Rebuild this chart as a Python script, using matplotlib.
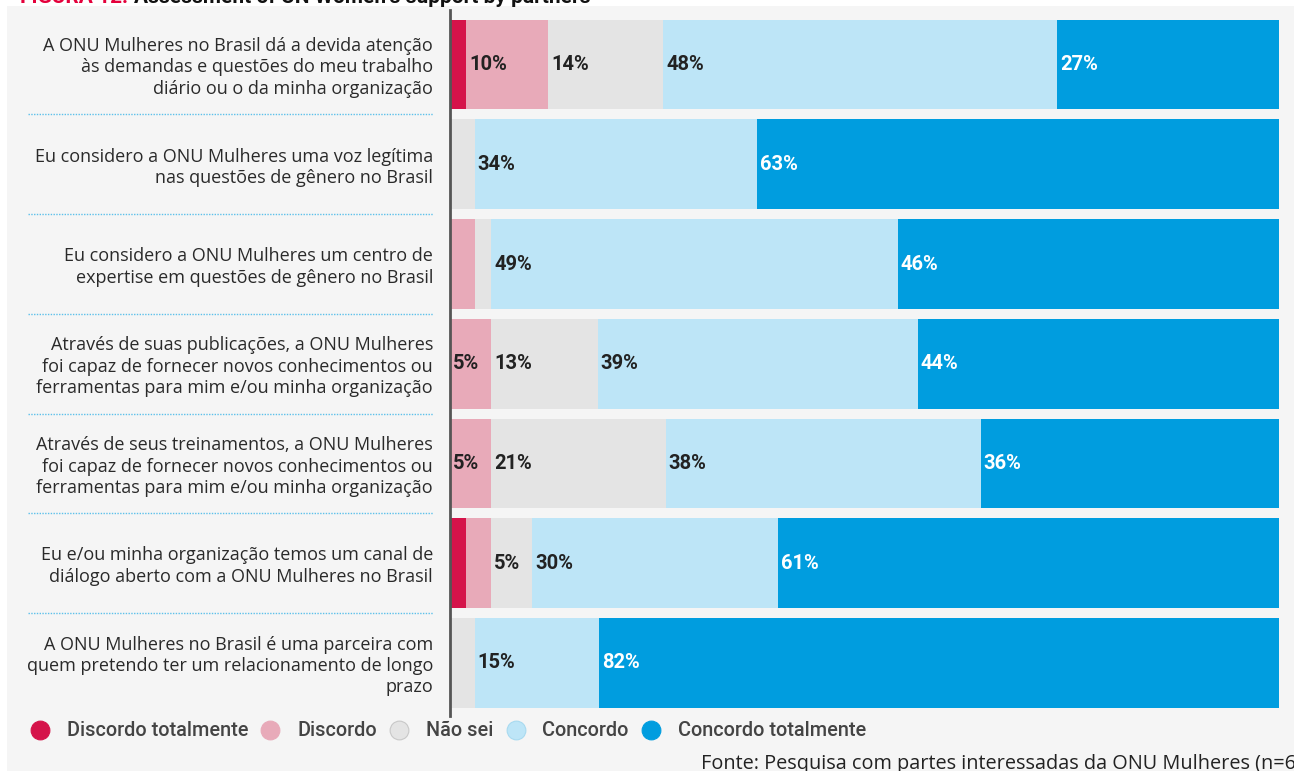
import matplotlib
matplotlib.use("Agg")
import matplotlib.pyplot as plt
import matplotlib.transforms as mtransforms
from matplotlib.patches import Rectangle
from matplotlib.lines import Line2D
import numpy as np

# ---------------- data ----------------
categories = [
    "A ONU Mulheres no Brasil dá a devida atenção\nàs demandas e questões do meu trabalho\ndiário ou o da minha organização",
    "Eu considero a ONU Mulheres uma voz legítima\nnas questões de gênero no Brasil",
    "Eu considero a ONU Mulheres um centro de\nexpertise em questões de gênero no Brasil",
    "Através de suas publicações, a ONU Mulheres\nfoi capaz de fornecer novos conhecimentos ou\nferramentas para mim e/ou minha organização",
    "Através de seus treinamentos, a ONU Mulheres\nfoi capaz de fornecer novos conhecimentos ou\nferramentas para mim e/ou minha organização",
    "Eu e/ou minha organização temos um canal de\ndiálogo aberto com a ONU Mulheres no Brasil",
    "A ONU Mulheres no Brasil é uma parceira com\nquem pretendo ter um relacionamento de longo\nprazo",
]
series_names = ["Discordo totalmente", "Discordo", "Não sei", "Concordo", "Concordo totalmente"]
discordo_totalmente = [2, 0, 0, 0, 0, 2, 0]
discordo = [10, 0, 3, 5, 5, 3, 0]
nao_sei = [14, 3, 2, 13, 21, 5, 3]
concordo = [48, 34, 49, 39, 38, 30, 15]
concordo_totalmente = [27, 63, 46, 44, 36, 61, 82]

colors = ["#d5134a", "#e8aab9", "#e4e4e4", "#bde5f7", "#009ddf"]
label_colors = ["white", "#222222", "#222222", "#222222", "white"]

W, H = 1294, 771
fig = plt.figure(figsize=(W / 100, H / 100), dpi=100, facecolor="white")

# background panel
fig.patches.append(Rectangle((7 / W, 0), 1 - 7 / W, 1 - 6 / H, transform=fig.transFigure,
                             facecolor="#f5f5f5", edgecolor="none", zorder=-10))

# title (cut off at top, as in reference)
fig.text(128 / W, 1 - 3 / H, "FIGURA 12:", color="#e4003b", fontsize=15, fontweight="bold",
         ha="right", va="baseline", family="Roboto")
fig.text(134 / W, 1 - 3 / H, "Assessment of UN Women's support by partners", color="#111111",
         fontsize=15, fontweight="bold", ha="left", va="baseline", family="Roboto")

row_pitch = 99.75
top_px = 64.5 - row_pitch / 2
bot_px = 663.0 + row_pitch / 2
ax = fig.add_axes([450 / W, 1 - bot_px / H, (1279 - 450) / W, (bot_px - top_px) / H])
ax.set_facecolor("none")

series = [discordo_totalmente, discordo, nao_sei, concordo, concordo_totalmente]
data = np.array(series, dtype=float)  # shape (5, n)
totals = data.sum(axis=0)
scaled = data / totals * 100.0
n = len(categories)
y = np.arange(n)
left = np.zeros(n)
for k in range(len(series)):
    ax.barh(y, scaled[k], left=left, height=0.9, color=colors[k], edgecolor="none", zorder=2)
    for i in range(n):
        if data[k, i] >= 5:
            ax.annotate(f"{int(data[k, i])}%", (left[i], y[i]), xytext=(3, 0),
                        textcoords="offset pixels", ha="left", va="center",
                        fontsize=14.5, fontweight="bold", color=label_colors[k],
                        family="Roboto", zorder=3)
    left = left + scaled[k]

ax.set_xlim(0, 100)
ax.set_ylim(n - 0.5, -0.5)
ax.set_xticks([])
ax.set_yticks([])
for s in ["top", "right", "bottom"]:
    ax.spines[s].set_visible(False)
ax.spines["left"].set_color("#555555")
ax.spines["left"].set_linewidth(2.0)
ax.spines["left"].set_bounds(n - 0.5 + 0.03, -0.5 - 0.05)

# category labels and dotted separators
blend = mtransforms.blended_transform_factory(fig.transFigure, ax.transData)
for i, cat in enumerate(categories):
    ax.annotate(cat, (433 / W, i), xycoords=blend, xytext=(0, -3), textcoords="offset pixels",
                ha="right", va="center", multialignment="right", fontsize=13,
                color="#2a2a2a", family="Open Sans", linespacing=1.25, annotation_clip=False)
for i in range(n - 1):
    ax.plot([28 / W, 433 / W], [i + 0.5, i + 0.5], transform=blend, color="#5cc0ea",
            linewidth=1.0, linestyle=(0, (1, 1)), clip_on=False)

# legend
handles = []
for k, name in enumerate(series_names):
    ec = "#c8c8c8" if k == 2 else ("#a8daf0" if k == 3 else colors[k])
    handles.append(Line2D([], [], marker="o", linestyle="none", markersize=13.5,
                          markerfacecolor=colors[k], markeredgecolor=ec, markeredgewidth=0.8,
                          label=name))
leg = fig.legend(handles=handles, loc="center left", bbox_to_anchor=(30 / W, 1 - 731 / H),
                 ncol=5, frameon=False, borderaxespad=0, borderpad=0, handlelength=1.0,
                 handletextpad=0.85, columnspacing=0.62,
                 prop={"family": "Roboto", "size": 14.3, "weight": "medium"})
for t in leg.get_texts():
    t.set_color("#444444")

# footer (cut off at right / bottom, as in reference)
fig.text(701 / W, 1 - 754 / H, "Fonte: Pesquisa com partes interessadas da ONU Mulheres (n=63)",
         ha="left", va="top", fontsize=14.3, color="#222222", family="Open Sans")

fig.savefig("out.png", dpi=100, facecolor=fig.get_facecolor())
